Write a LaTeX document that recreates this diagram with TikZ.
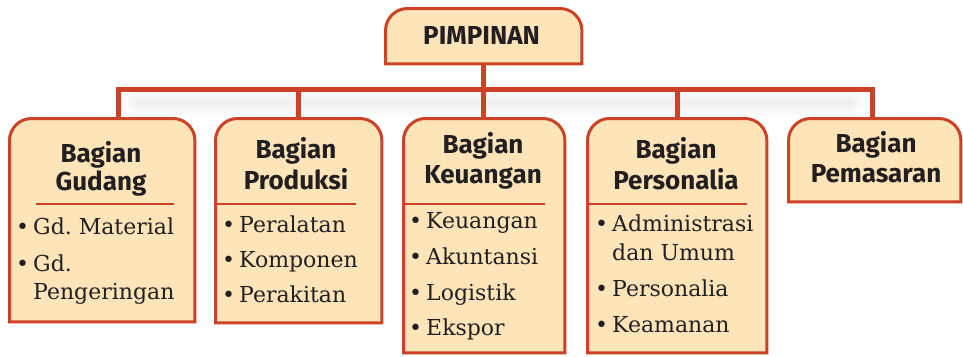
\documentclass[tikz,border=0pt]{standalone}
\usepackage{fontspec}
\setmainfont{DejaVu Serif}
\newfontfamily\headfont{Fira Sans}
\frenchspacing
\definecolor{frameRed}{RGB}{204,66,38}
\definecolor{boxFill}{RGB}{253,228,185}
\definecolor{ink}{RGB}{35,31,32}

\tikzset{
  unitbox/.style={draw=none, inner sep=0pt, anchor=north west},
  frame/.style={draw=frameRed, fill=boxFill, line width=3pt, line join=miter},
  link/.style={draw=frameRed, line width=5pt, line join=miter},
  divider/.style={draw=frameRed, line width=2.5pt},
  headtext/.style={inner sep=0pt, anchor=base, text=ink,
    font=\headfont\bfseries\fontsize{26}{29}\selectfont},
  itemtext/.style={inner sep=0pt, anchor=base west, text=ink,
    font=\fontsize{22}{28}\selectfont},
  haze/.style={black, opacity=0.008, line cap=round},
}
% bullet hung to the left of an item's first line
\newcommand\bul{\llap{•\hspace{4pt}}}
% box outline: rounded top corners, square bottom corners
\newcommand\tabframe[1]{%
  \draw[frame] (#1.south west) -- ([yshift=-22pt]#1.north west)
    arc[start angle=180, end angle=90, radius=22pt]
    -- ([xshift=-22pt]#1.north east)
    arc[start angle=90, end angle=0, radius=22pt]
    -- (#1.south east) -- cycle;}
% box node from its left, top, right and bottom edges
\newcommand\placebox[5]{%
  \node[unitbox, minimum width={(#4-#2)*1pt}, minimum height={(#5-#3)*1pt}]
    (#1) at (#2,#3) {};}

\begin{document}
\begin{tikzpicture}[x=1pt, y=-1pt]
\useasboundingbox (0,0) rectangle (963,356);

% boxes (positions only)
\placebox{pim}{385.5}{8.5}{581.5}{63.5}
\placebox{gud}{9.5}{118.5}{194.5}{321.5}
\placebox{pro}{215.5}{118.5}{381.5}{322.5}
\placebox{keu}{403.5}{118.5}{564.5}{352.5}
\placebox{per}{587.5}{118.5}{766.5}{352.5}
\placebox{pem}{788.5}{118.5}{960.5}{201.5}

% bus line
\coordinate (busL) at (118,89);
\coordinate (busR) at (872.5,89);

% soft shadow below the bus line
\foreach \w in {30,26,22,18,14,10,6}
  \draw[haze, line width=\w pt] (140,102) -- (850,102);

% connectors
\draw[link] (gud.north -| busL) -- (busL) -- (busR) -- (pem.north -| busR);
\draw[link] (pim.south) -- (pim.south |- keu.north);
\draw[link] (pro.north) -- (pro.north |- busL);
\draw[link] (per.north) -- (per.north |- busL);

% outlines
\tabframe{pim}
\tabframe{gud}
\tabframe{pro}
\tabframe{keu}
\tabframe{per}
\tabframe{pem}

% dividers under the headings
\coordinate (gdA) at (36,204);  \coordinate (gdB) at (174,204);
\coordinate (prB) at (356,204);
\coordinate (kuB) at (545,204);
\coordinate (psB) at (747,204);
\draw[divider] (gdA) -- (gdB);
\draw[divider] (pro.west |- prB) -- (prB);
\draw[divider] (keu.west |- kuB) -- (kuB);
\draw[divider] (per.west |- psB) -- (psB);

% headings
\node[headtext] (pimT) at (481.5,44) {PIMPINAN};
\node[headtext] (gudT1) at (101,162) {Bagian};
\node[headtext] (gudT2) at (101,190) {Gudang};
\node[headtext] (proT1) at (296,158) {Bagian};
\node[headtext] (proT2) at (296,189) {Produksi};
\node[headtext] (keuT1) at (483,153) {Bagian};
\node[headtext] (keuT2) at (483,183) {Keuangan};
\node[headtext] (perT1) at (676,158) {Bagian};
\node[headtext] (perT2) at (676,189) {Personalia};
\node[headtext] (pemT1) at (876,152) {Bagian};
\node[headtext] (pemT2) at (876,182) {Pemasaran};

% lists
\node[itemtext] (gud1) at (33,234) {\bul Gd. Material};
\node[itemtext] (gud2) at (33,271) {\bul Gd.};
\node[itemtext] (gud3) at (33,299) {Pengeringan};

\node[itemtext] (pro1) at (239,232) {\bul Peralatan};
\node[itemtext] (pro2) at (239,267) {\bul Komponen};
\node[itemtext] (pro3) at (239,302) {\bul Perakitan};

\node[itemtext] (keu1) at (426,228) {\bul Keuangan};
\node[itemtext] (keu2) at (426,264) {\bul Akuntansi};
\node[itemtext] (keu3) at (426,300) {\bul Logistik};
\node[itemtext] (keu4) at (426,335) {\bul Ekspor};

\node[itemtext] (per1) at (612,231) {\bul Administrasi};
\node[itemtext] (per2) at (612,260) {dan Umum};
\node[itemtext] (per3) at (612,296) {\bul Personalia};
\node[itemtext] (per4) at (612,332) {\bul Keamanan};
\end{tikzpicture}
\end{document}
